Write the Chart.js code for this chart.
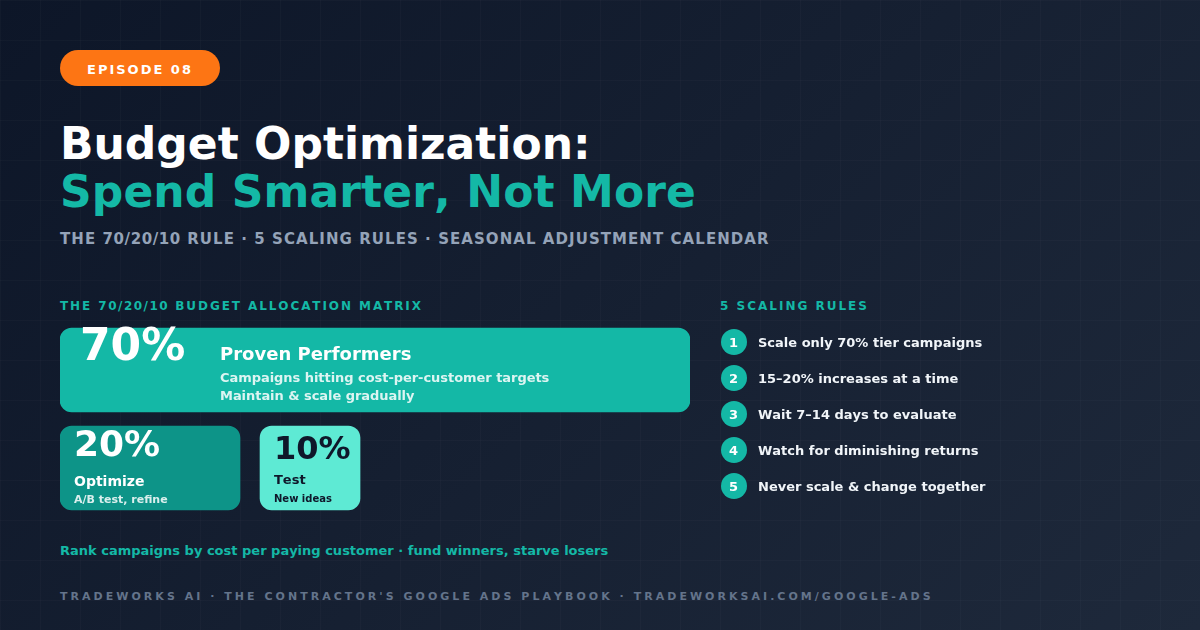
<!DOCTYPE html>
<html>
<head>
<meta charset="utf-8">
<script src="https://cdn.jsdelivr.net/npm/chart.js@4"></script>
<style>
html, body { margin: 0; padding: 0; }
body { width: 1200px; height: 630px; overflow: hidden; position: relative; font-family: "DejaVu Sans", sans-serif; font-weight: bold; font-kerning: none;
  background: linear-gradient(135deg, #0d1628 0%, #1e293b 100%); }
#grid { position: absolute; inset: 0;
  background-image: linear-gradient(rgba(255,255,255,.018) 1px, transparent 1px), linear-gradient(90deg, rgba(255,255,255,.018) 1px, transparent 1px);
  background-size: 40px 40px; }
#pill { position: absolute; left: 60px; top: 50px; width: 160px; height: 36px; border-radius: 18px; background: #fd7514; }
canvas { position: absolute; }
#tiles { left: 60px; top: 321px; }
#rules { left: 720px; top: 324px; }
.t { position: absolute; line-height: 1; white-space: nowrap; }
</style>
</head>
<body>
<div id="grid"></div>
<div id="pill"></div>
<canvas id="tiles" width="630" height="196"></canvas>
<canvas id="rules" width="28" height="180"></canvas>

<div class="t" style="left:87px;top:63px;font-size:13px;letter-spacing:2px;color:#fff">EPISODE 08</div>
<div class="t" style="left:60px;top:122px;font-size:44px;color:#fff">Budget Optimization:</div>
<div class="t" style="left:60px;top:170px;font-size:44px;letter-spacing:.1px;color:#14b8a6">Spend Smarter, Not More</div>
<div class="t" style="left:60px;top:232px;font-size:15px;letter-spacing:1.06px;color:#94a3b8">THE <span style="letter-spacing:.6px">70/20/10</span> RULE · 5 SCALING RULES · SEASONAL ADJUSTMENT CALENDAR</div>
<div class="t" style="left:60px;top:300px;font-size:12px;letter-spacing:1.92px;color:#14b8a6">THE <span style="letter-spacing:1.5px">70/20/10</span> BUDGET ALLOCATION MATRIX</div>
<div class="t" style="left:720px;top:300px;font-size:12px;letter-spacing:2px;color:#14b8a6">5 SCALING RULES</div>

<div class="t" id="s0" style="left:80px;top:323px;font-size:44px;color:#fff"></div>
<div class="t" style="left:220px;top:345px;font-size:18px;color:#fff">Proven Performers</div>
<div class="t" style="left:220px;top:371px;font-size:13px;letter-spacing:-.05px;color:rgba(255,255,255,.85)">Campaigns hitting cost-per-customer targets</div>
<div class="t" style="left:220px;top:389px;font-size:13px;letter-spacing:-.05px;color:rgba(255,255,255,.85)">Maintain &amp; scale gradually</div>

<div class="t" id="s1" style="left:74px;top:426px;font-size:36px;color:#fff"></div>
<div class="t" style="left:74px;top:474px;font-size:14px;color:#fff">Optimize</div>
<div class="t" style="left:74px;top:494px;font-size:11px;color:rgba(255,255,255,.85)">A/B test, refine</div>

<div class="t" id="s2" style="left:274px;top:432px;font-size:32px;color:#0f172a"></div>
<div class="t" style="left:274px;top:473px;font-size:13px;color:#0f172a">Test</div>
<div class="t" style="left:274px;top:494px;font-size:10px;color:#0f172a">New ideas</div>

<div id="ruleText"></div>

<div class="t" style="left:60px;top:544px;font-size:13px;color:#14b8a6">Rank campaigns by cost per paying customer · fund winners, starve losers</div>
<div class="t" style="left:60px;top:591px;font-size:11px;letter-spacing:3.03px;color:#64748b">TRADEWORKS AI · THE CONTRACTOR'S GOOGLE ADS PLAYBOOK · TRADEWORKSAI.COM/GOOGLE-ADS</div>

<script>
// budget split
const shares = [70, 20, 10];
const tileRows = ['Proven Performers', 'Optimize and Test'];
// tile spans, in % of the matrix width
const provenSpan = [0, 100];
const optimizeSpan = [0, 28.57];
const testSpan = [31.75, 47.62];

const ruleNumbers = ['1', '2', '3', '4', '5'];
const ruleLabels = [
  'Scale only 70% tier campaigns',
  '15–20% increases at a time',
  'Wait 7–14 days to evaluate',
  'Watch for diminishing returns',
  'Never scale & change together'
];

Chart.defaults.animation = false;
Chart.defaults.responsive = false;
Chart.defaults.devicePixelRatio = 1;
Chart.defaults.plugins.legend.display = false;
Chart.defaults.plugins.tooltip.enabled = false;

shares.forEach((s, i) => { document.getElementById('s' + i).textContent = s + '%'; });

// matrix tiles, floating bars
new Chart(document.getElementById('tiles'), {
  type: 'bar',
  data: {
    labels: tileRows,
    datasets: [
      { label: 'Proven Performers', data: [provenSpan, null], backgroundColor: '#14b8a6' },
      { label: 'Optimize', data: [null, optimizeSpan], backgroundColor: '#0d9488' },
      { label: 'Test', data: [null, testSpan], backgroundColor: '#5eead4' }
    ]
  },
  options: {
    indexAxis: 'y',
    grouped: false,
    barThickness: 84,
    borderRadius: 12,
    borderSkipped: false,
    scales: {
      x: { display: false, min: 0, max: 100 },
      y: { display: false }
    }
  }
});

// numbered circles
new Chart(document.getElementById('rules'), {
  type: 'scatter',
  data: {
    datasets: [{
      label: 'Rules',
      data: ruleNumbers.map(n => ({ x: 0, y: n })),
      pointRadius: 13,
      pointBackgroundColor: '#14b8a6',
      pointBorderWidth: 0,
      clip: false
    }]
  },
  options: {
    layout: { autoPadding: false },
    scales: {
      x: { display: false, min: -1, max: 1 },
      y: { display: false, type: 'category', labels: ruleNumbers, offset: true }
    }
  }
});

const ruleText = document.getElementById('ruleText');
ruleLabels.forEach((label, i) => {
  const y = 342 + i * 36;
  ruleText.insertAdjacentHTML('beforeend',
    `<div class="t" style="left:720px;width:27px;text-align:center;top:${y - 6}px;font-size:13px;color:#fff">${ruleNumbers[i]}</div>` +
    `<div class="t" style="left:758px;top:${y - 6}px;font-size:13px;color:#f1f5f9">${label.replace('&', '&amp;')}</div>`);
});
</script>
</body>
</html>
